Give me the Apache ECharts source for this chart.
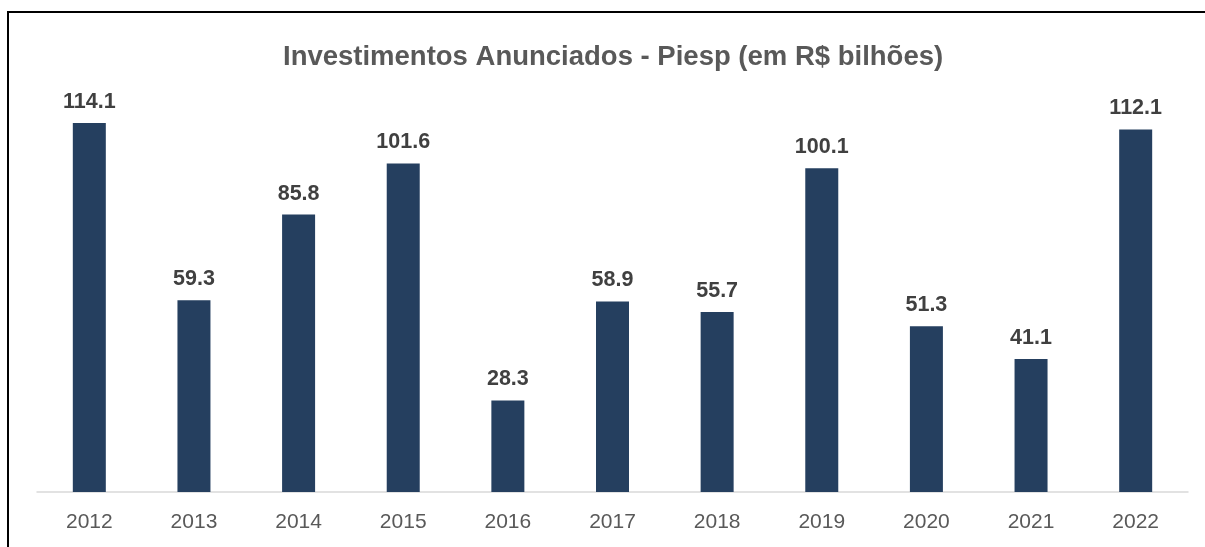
<!DOCTYPE html>
<html>
<head>
<meta charset="utf-8">
<script src="https://cdn.jsdelivr.net/npm/echarts@6/dist/echarts.min.js"></script>
<style>
  html, body { margin: 0; padding: 0; background: #fff; }
  #chart { width: 1205px; height: 547px; }
</style>
</head>
<body>
<div id="chart"></div>
<script>
var years = ['2012', '2013', '2014', '2015', '2016', '2017', '2018', '2019', '2020', '2021', '2022'];
var investimentos = [114.1, 59.3, 85.8, 101.6, 28.3, 58.9, 55.7, 100.1, 51.3, 41.1, 112.1];

var dom = document.getElementById('chart');
var myChart = echarts.init(dom);
var option = {
    backgroundColor: '#fff',
    title: {
        text: 'Investimentos Anunciados - Piesp (em R$ bilhões)',
        left: 278,
        top: 38,
        textStyle: {
            fontFamily: 'Liberation Sans',
            fontWeight: 'bold',
            fontSize: 27.5,
            color: '#595959'
        }
    },
    graphic: [{
        type: 'polyline',
        shape: { points: [[8, 547], [8, 12], [1205, 12]] },
        style: { stroke: '#000', lineWidth: 2, fill: null }
    }],
    grid: { left: 37, right: 17, top: 104, bottom: 55 },
    xAxis: {
        type: 'category',
        data: years,
        axisLine: { lineStyle: { color: '#D9D9D9', width: 1.5 } },
        axisTick: { show: false },
        axisLabel: {
            fontFamily: 'Liberation Sans',
            fontSize: 21,
            color: '#595959',
            margin: 20
        }
    },
    yAxis: {
        type: 'value',
        min: 0,
        max: 120,
        show: false,
        splitLine: { show: false }
    },
    series: [{
        type: 'bar',
        data: investimentos,
        barWidth: 33,
        itemStyle: { color: '#253F5F' },
        label: {
            show: true,
            position: 'top',
            distance: 10,
            fontFamily: 'Liberation Sans',
            fontWeight: 'bold',
            fontSize: 21.5,
            color: '#404040',
            formatter: function (p) { return p.value.toFixed(1); }
        }
    }]
};
myChart.setOption(option);
</script>
</body>
</html>
